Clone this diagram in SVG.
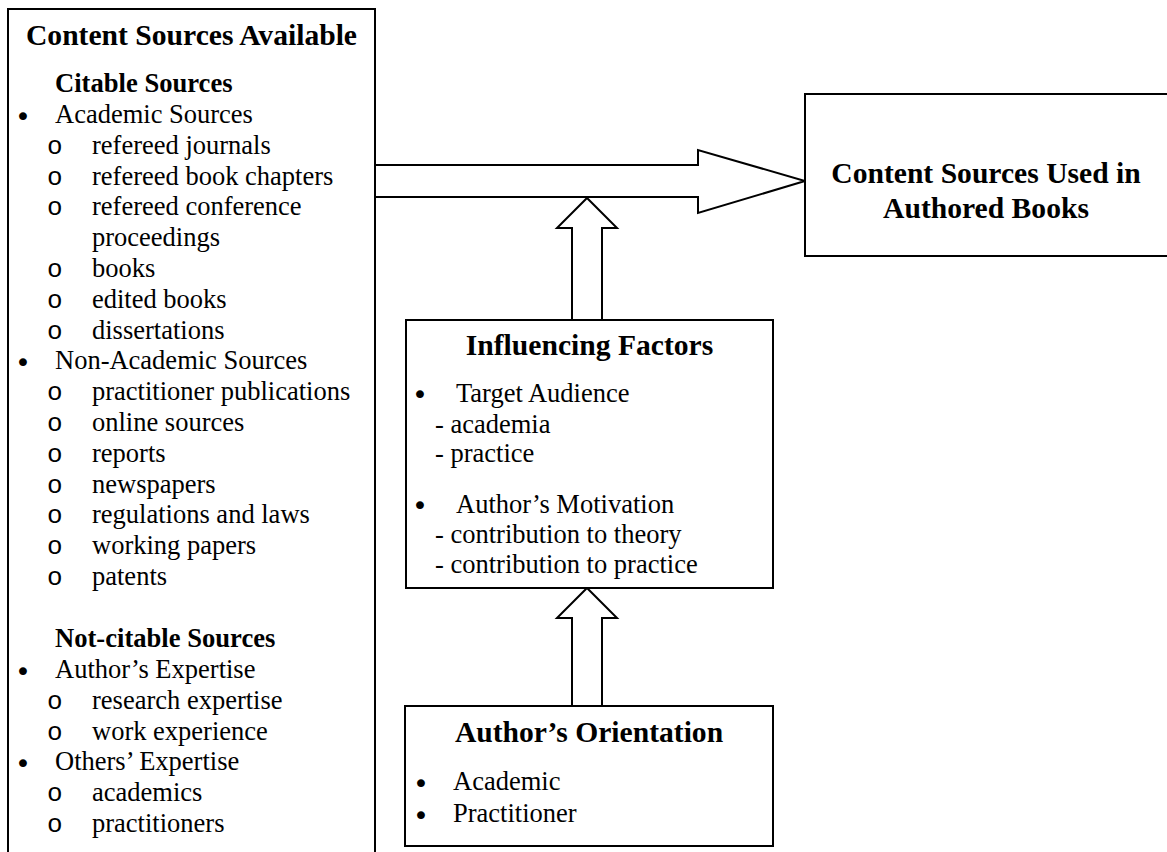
<svg xmlns="http://www.w3.org/2000/svg" width="1167" height="852" viewBox="0 0 1167 852">
<style>
.box{fill:#fff;stroke:#000;stroke-width:2}
.arr{fill:#fff;stroke:#000;stroke-width:2;stroke-linejoin:miter}
text{font-family:"Liberation Serif","Times New Roman",serif;fill:#000}
.h{font-size:29.6px;font-weight:bold}
.sh{font-size:26.6px;font-weight:bold}
.t{font-size:26.5px}
.b{font-size:27px;font-family:"DejaVu Sans",sans-serif}
.o{font-size:26px;font-family:"Liberation Mono","Courier New",monospace}
.c{text-anchor:middle}
</style>
<rect width="1167" height="852" fill="#fff"/>
<g id="connectors">
<polyline class="arr" points="375,165 698,165 698,150 805,181 698,213 698,197 375,197"/>
<polyline class="arr" points="572,320 572,228 557,228 587,198 617,228 602,228 602,320"/>
<polyline class="arr" points="572,706 572,618 557,618 587,588 617,618 602,618 602,706"/>
</g>
<g id="content-sources-available">
<rect class="box" x="8" y="9" width="367" height="900"/>
<text class="h c" x="191.5" y="45">Content Sources Available</text>
<text class="sh" x="55" y="92">Citable Sources</text>
<text class="b" x="15" y="126">•</text><text class="t" x="55" y="123">Academic Sources</text>
<text class="o" x="47" y="153.8">o</text><text class="t" x="92" y="153.8">refereed journals</text>
<text class="o" x="47" y="184.6">o</text><text class="t" x="92" y="184.6">refereed book chapters</text>
<text class="o" x="47" y="215.4">o</text><text class="t" x="92" y="215.4">refereed conference</text>
<text class="t" x="92" y="246.2">proceedings</text>
<text class="o" x="47" y="277">o</text><text class="t" x="92" y="277">books</text>
<text class="o" x="47" y="307.8">o</text><text class="t" x="92" y="307.8">edited books</text>
<text class="o" x="47" y="338.6">o</text><text class="t" x="92" y="338.6">dissertations</text>
<text class="b" x="15" y="372.4">•</text><text class="t" x="55" y="369.4">Non-Academic Sources</text>
<text class="o" x="47" y="400.2">o</text><text class="t" x="92" y="400.2">practitioner publications</text>
<text class="o" x="47" y="431">o</text><text class="t" x="92" y="431">online sources</text>
<text class="o" x="47" y="461.8">o</text><text class="t" x="92" y="461.8">reports</text>
<text class="o" x="47" y="492.6">o</text><text class="t" x="92" y="492.6">newspapers</text>
<text class="o" x="47" y="523.4">o</text><text class="t" x="92" y="523.4">regulations and laws</text>
<text class="o" x="47" y="554.2">o</text><text class="t" x="92" y="554.2">working papers</text>
<text class="o" x="47" y="585">o</text><text class="t" x="92" y="585">patents</text>
<text class="sh" x="55" y="647">Not-citable Sources</text>
<text class="b" x="15" y="681">•</text><text class="t" x="55" y="678">Author’s Expertise</text>
<text class="o" x="47" y="708.8">o</text><text class="t" x="92" y="708.8">research expertise</text>
<text class="o" x="47" y="739.6">o</text><text class="t" x="92" y="739.6">work experience</text>
<text class="b" x="15" y="773.4">•</text><text class="t" x="55" y="770.4">Others’ Expertise</text>
<text class="o" x="47" y="801.2">o</text><text class="t" x="92" y="801.2">academics</text>
<text class="o" x="47" y="832">o</text><text class="t" x="92" y="832">practitioners</text>
</g>
<g id="content-sources-used">
<rect class="box" x="805" y="94" width="370" height="162"/>
<text class="h c" x="986" y="183">Content Sources Used in</text>
<text class="h c" x="986" y="218">Authored Books</text>
</g>
<g id="influencing-factors">
<rect class="box" x="406" y="320" width="367" height="268"/>
<text class="h c" x="589.5" y="355">Influencing Factors</text>
<text class="b" x="412" y="404">•</text><text class="t" x="456" y="402">Target Audience</text>
<text class="t" x="435" y="433">- academia</text>
<text class="t" x="435" y="462">- practice</text>
<text class="b" x="412" y="515">•</text><text class="t" x="456" y="513">Author’s Motivation</text>
<text class="t" x="435" y="543">- contribution to theory</text>
<text class="t" x="435" y="573">- contribution to practice</text>
</g>
<g id="authors-orientation">
<rect class="box" x="405" y="706" width="368" height="140"/>
<text class="h c" x="589" y="742">Author’s Orientation</text>
<text class="b" x="413" y="793">•</text><text class="t" x="453" y="790">Academic</text>
<text class="b" x="413" y="825">•</text><text class="t" x="453" y="822">Practitioner</text>
</g>
</svg>
